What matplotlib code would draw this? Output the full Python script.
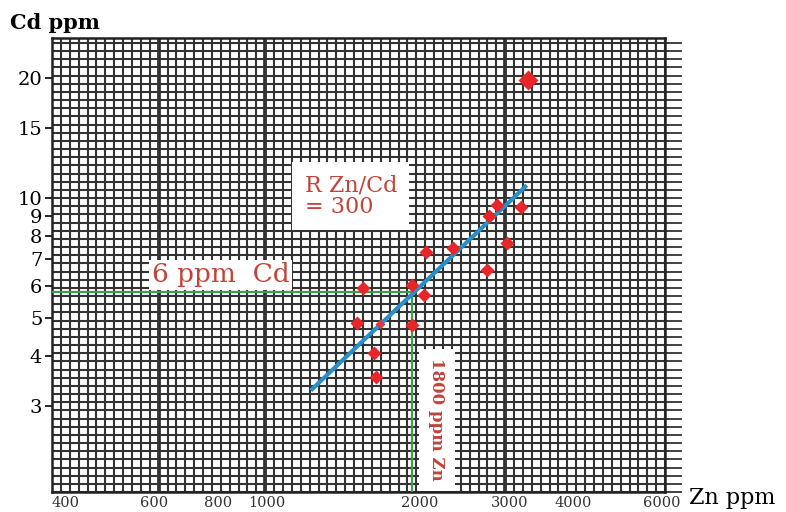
import numpy as np
from matplotlib import pyplot as plt
from matplotlib.ticker import FixedLocator, NullFormatter, FixedFormatter

# sample data
zn = [2840, 3160, 2740, 2325, 2057, 2970, 2713, 1546, 1930, 2038,
      1505, 1930, 1625, 1640, 3268]
cd = [9.6, 9.5, 9.0, 7.5, 7.3, 7.7, 6.6, 5.95, 6.05, 5.7,
      4.85, 4.8, 4.08, 3.55, 19.8]
odd_zn = [1670]   # small mark sitting on the line
odd_cd = [4.83]

# fitted ratio line
fit_zn = [1227, 3224]
fit_cd = [3.31, 10.66]

# reference values marked in green
ref_zn = 1930
ref_cd = 5.8

xticks = [400, 600, 800, 1000, 2000, 3000, 4000, 6000]
yticks = [3, 4, 5, 6, 7, 8, 9, 10, 15, 20]
xlim = (377, 6080)
ylim = (1.825, 25.2)

# heavier vertical lines of the graph paper
heavy_x = [600, 1000, 3000]

serif = 'DejaVu Serif'
red_txt = '#c0443a'

fig = plt.figure(figsize=(7.86, 5.12), dpi=100)
ax = fig.add_axes([0.0662, 0.039, 0.78, 0.887])
ax.set_xscale('log')
ax.set_yscale('log')
ax.set_xlim(*xlim)
ax.set_ylim(*ylim)

# graph paper: evenly spaced fine lines in log space
fine_x = 10 ** np.arange(np.log10(xlim[0]), np.log10(xlim[1]), 0.0175)
fine_y = 10 ** np.arange(np.log10(ylim[0]), np.log10(ylim[1]), 0.0205)
ax.xaxis.set_minor_locator(FixedLocator(fine_x))
ax.yaxis.set_minor_locator(FixedLocator(fine_y))
ax.xaxis.set_minor_formatter(NullFormatter())
ax.yaxis.set_minor_formatter(NullFormatter())
ax.grid(True, which='minor', color='#333333', lw=1.5)
# heavy lines sit on the nearest fine line so they don't double up
for v in heavy_x:
    snap = fine_x[np.argmin(np.abs(np.log10(fine_x) - np.log10(v)))]
    ax.axvline(snap, color='#1e1e1e', lw=2.6, zorder=1)

ax.xaxis.set_major_locator(FixedLocator(xticks))
ax.xaxis.set_major_formatter(FixedFormatter([str(t) for t in xticks]))
ax.yaxis.set_major_locator(FixedLocator(yticks))
ax.yaxis.set_major_formatter(FixedFormatter([str(t) for t in yticks]))

ax.tick_params(axis='x', which='both', length=0, pad=3, labelsize=10.5,
               labelcolor='#333333')
ax.tick_params(axis='y', which='major', length=5, width=1.2, pad=2,
               labelsize=14, left=True, right=False)
ax.tick_params(axis='y', which='minor', length=12, width=1.3, color='#333333',
               left=False, right=True)
for lab in ax.get_xticklabels() + ax.get_yticklabels():
    lab.set_family(serif)
for s in ax.spines.values():
    s.set_color('#222222')
    s.set_linewidth(1.8)

# green reference lines
ax.plot([xlim[0], ref_zn], [ref_cd, ref_cd], color='#3e9b4f', lw=1.6, zorder=3)
ax.plot([ref_zn, ref_zn], [ylim[0], ref_cd], color='#3e9b4f', lw=1.6, zorder=3)

# fit line and samples
ax.plot(fit_zn, fit_cd, color='#2a8fc9', lw=3, zorder=4)
ax.plot(zn[:-1], cd[:-1], 'D', color='#e8262a', ms=7.5, mec='none', zorder=5)
ax.plot(zn[-1:], cd[-1:], 'D', color='#e8262a', ms=10, mec='none', zorder=5)
ax.plot(odd_zn, odd_cd, 'D', color='#d4384a', ms=5, mec='none', zorder=5)

# annotation boxes
ax.text(1185, 10.1, 'R Zn/Cd\n= 300', color=red_txt, fontsize=16, family=serif,
        va='center', ha='left', linespacing=1.0,
        bbox=dict(facecolor='white', edgecolor='none', pad=9))
ax.text(592, 6.4, '6 ppm  Cd', color=red_txt, fontsize=19, family=serif,
        va='center', ha='left',
        bbox=dict(facecolor='white', edgecolor='none', pad=2))
ax.text(2160, 2.77, '1800 ppm Zn', color=red_txt, fontsize=12, family=serif,
        fontweight='bold', rotation=270, va='center', ha='center',
        bbox=dict(facecolor='white', edgecolor='none', pad=7))

fig.text(0.013, 0.955, 'Cd ppm', fontsize=15, family=serif, fontweight='bold',
         va='center', ha='left')
fig.text(0.877, 0.028, 'Zn ppm', fontsize=16, family=serif,
         va='center', ha='left')

fig.savefig('out.png', dpi=100)
